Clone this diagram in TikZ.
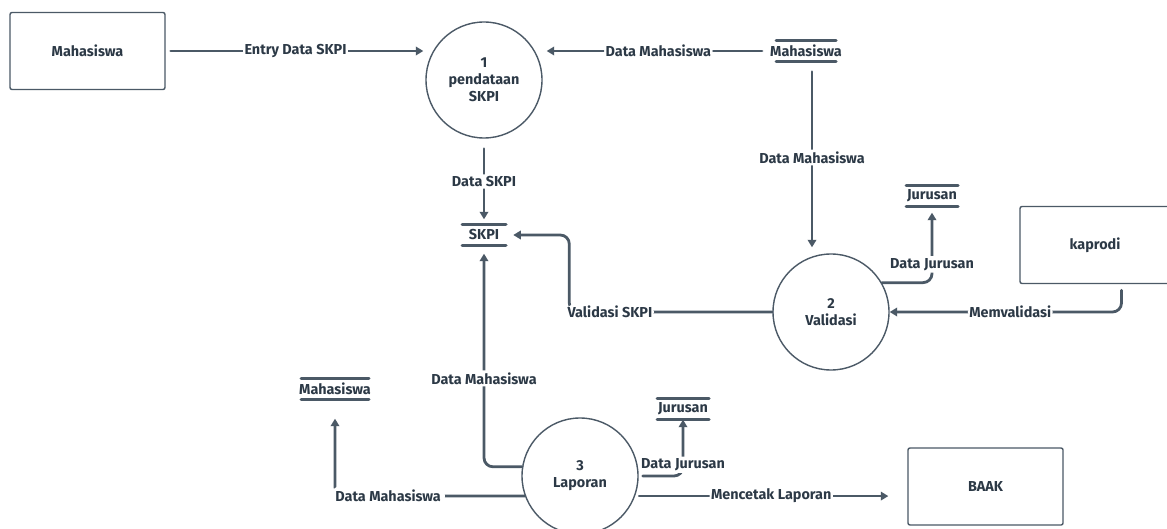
\documentclass[tikz,border=0pt]{standalone}
\usepackage{fontspec}
\setmainfont{Fira Sans}
\usetikzlibrary{arrows.meta,positioning}

\definecolor{flowline}{HTML}{4B5966}
\definecolor{flowtext}{HTML}{2C3946}
\newcommand{\dfdfont}{\bfseries\fontsize{14.4}{17}\selectfont}

\tikzset{
  entity/.style={draw=flowline, line width=1.4pt, rounded corners=2pt,
    minimum width=155pt, minimum height=77pt, text=flowtext, font=\dfdfont},
  process/.style={circle, draw=flowline, line width=1.4pt, minimum size=116pt,
    align=center, text=flowtext, font=\dfdfont},
  store/.style={text=flowtext, font=\dfdfont, minimum height=21pt, inner sep=0pt},
  storebar/.style={flowline, line width=3pt, line cap=round},
  flow/.style={flowline, line width=2.8pt, line cap=round, rounded corners=9pt,
    -{Triangle[length=7.5pt,width=8.5pt]}},
  lbl/.style={fill=white, text=flowtext, font=\dfdfont, inner xsep=1.5pt, inner ysep=2pt}
}

\begin{document}
\begin{tikzpicture}[x=1pt,y=-1pt]
    \useasboundingbox[fill=white] (0,0) rectangle (1167,529);

    % entities
    \node[entity]   (mhs)  at (87.5,51)   {Mahasiswa};
    \node[entity]   (kap)  at (1097.5,245) {};
    \node[text=flowtext, font=\dfdfont] (kaplbl) at (1095,245) {kaprodi};
    \node[entity]   (baak) at (985.5,486.5) {BAAK};

    % processes
    \node[process]  (p1) at (484,80)  {1\\pendataan\\SKPI};
    \node[process]  (p2) at (831,312) {2\\Validasi};
    \node[process]  (p3) at (580,476) {3\\Laporan};

    % data stores
    \node[store]    (mhsA) at (806,51)  {Mahasiswa};
    \node[store]    (skpi) at (484,235) {SKPI};
    \node[store]    (jurA) at (932,196) {Jurusan};
    \node[store]    (jurB) at (683,409) {Jurusan};
    \node[store]    (mhsB) at (335,389) {Mahasiswa};
    \foreach \s/\w in {mhsA/30,skpi/22,jurA/26,jurB/26,mhsB/34}
        \draw[storebar] ([xshift=-\w pt]\s.north) -- ([xshift=\w pt]\s.north)
                        ([xshift=-\w pt]\s.south) -- ([xshift=\w pt]\s.south);

    % flows
    \draw[flow, shorten <=5pt, shorten >=2pt] (mhs.east) -- (p1.west |- mhs.east)
        node[lbl, midway] {Entry Data SKPI};
    \draw[flow, shorten <=8pt] (mhsA.west) -- ([xshift=4pt]p1.east |- mhsA.west)
        node[lbl, midway] {Data Mahasiswa};
    \draw[flow, shorten <=10pt, shorten >=6pt] ([xshift=6pt]mhsA.south) -- ([xshift=6pt]mhsA.south |- p2.north)
        node[lbl, midway] {Data Mahasiswa};
    \draw[flow, shorten <=10pt, shorten >=5pt] (p1.south) -- (skpi.north)
        node[lbl, midway] {Data SKPI};
    \draw[flow, shorten >=6pt] (p2.30) -| (jurA.south)
        node[lbl, pos=0.62] {Data Jurusan};
    \draw[flow, shorten <=6pt] ([xshift=24pt]kap.south) |- (p2.east)
        node[lbl, pos=0.74] {Memvalidasi};
    \draw[flow] (p2.west) -- ++(-203,0) node[lbl, pos=0.8] {Validasi SKPI}
        |- ([xshift=14pt]skpi.east);
    \draw[flow, shorten >=8pt] (p3.171) -| (skpi.south)
        node[lbl, pos=0.7] {Data Mahasiswa};
    \draw[flow, shorten >=19pt] (p3.200) -| (mhsB.south)
        node[lbl, pos=0.36, inner xsep=4pt, inner ysep=4pt] {Data Mahasiswa};
    \draw[flow, shorten <=4pt] (p3.east) -| (jurB.south)
        node[lbl, pos=0.6] {Data Jurusan};
    \draw[flow, shorten <=4pt, shorten >=19pt] (p3.340) -- (baak.west |- p3.340)
        node[lbl, midway] {Mencetak Laporan};
\end{tikzpicture}
\end{document}
